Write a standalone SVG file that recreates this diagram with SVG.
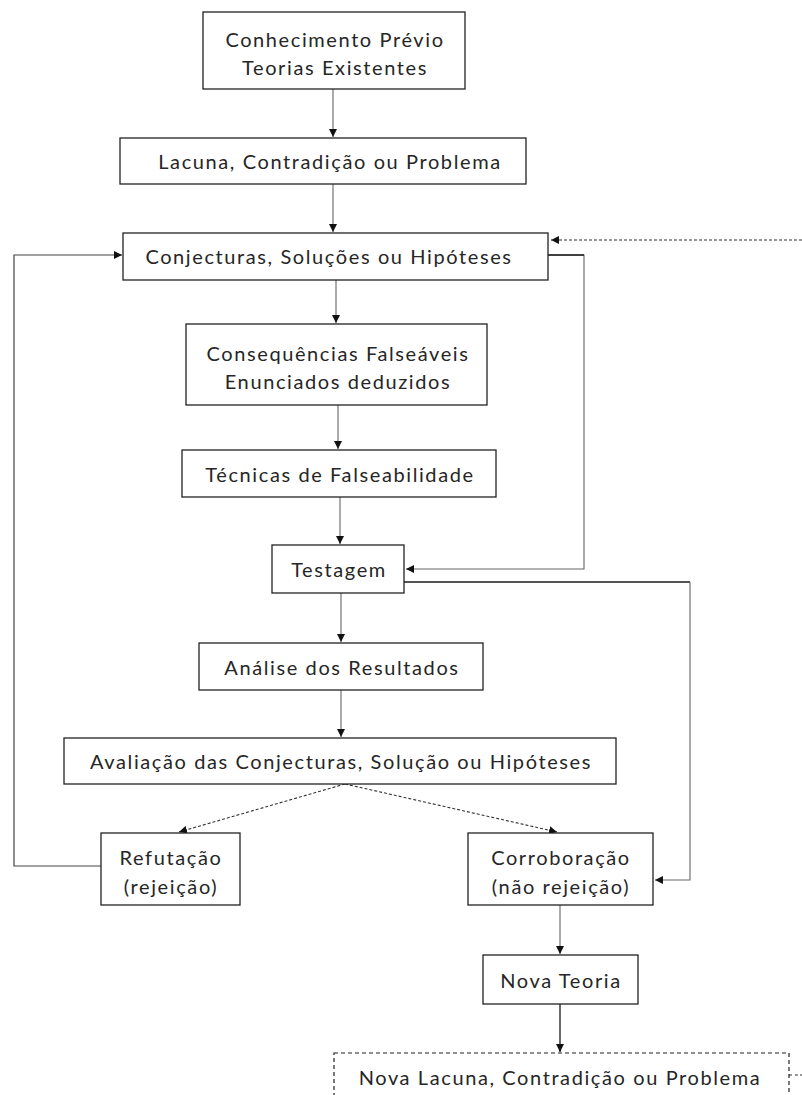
<svg xmlns="http://www.w3.org/2000/svg" width="802" height="1095" viewBox="0 0 802 1095">
  <style>
    .box { fill: #ffffff; stroke: #222222; stroke-width: 1.3; }
    .dbox { fill: #ffffff; stroke: #222222; stroke-width: 1.2; stroke-dasharray: 4 3; }
    .lbl { font-family: Lato, "Liberation Sans", sans-serif; font-size: 20px; fill: #262626; text-anchor: middle; dominant-baseline: central; letter-spacing: 1.6px; }
    .ln { fill: none; stroke: #666666; stroke-width: 1.1; }
    .md { fill: none; stroke: #444444; stroke-width: 1.2; }
    .dk { fill: none; stroke: #1a1a1a; stroke-width: 1.3; }
    .ds { fill: none; stroke: #333333; stroke-width: 1.1; stroke-dasharray: 3 2; }
  </style>
  <defs>
    <marker id="ah" viewBox="0 0 10 10" refX="10" refY="5" markerWidth="8" markerHeight="8" markerUnits="userSpaceOnUse" orient="auto">
      <path d="M0,0 L10,5 L0,10 z" fill="#111111"/>
    </marker>
  </defs>

  <rect width="802" height="1095" fill="#ffffff"/>

  <g id="connectors">
    <path class="ln" d="M333,89 V137" marker-end="url(#ah)"/>
    <path class="ln" d="M333,184 V232" marker-end="url(#ah)"/>
    <path class="ds" d="M802,240 H551" marker-end="url(#ah)"/>
    <path class="md" d="M101,866 H14 V255 H122" marker-end="url(#ah)"/>
    <path class="ln" d="M548,255 H584 V569 H406" marker-end="url(#ah)"/>
    <path class="dk" d="M548,255 H584"/>
    <path class="ln" d="M336,280 V323" marker-end="url(#ah)"/>
    <path class="ln" d="M338,405 V449" marker-end="url(#ah)"/>
    <path class="ln" d="M340,497 V544" marker-end="url(#ah)"/>
    <path class="dk" d="M404,582 H690"/>
    <path class="ln" d="M690,582 V880 H655" marker-end="url(#ah)"/>
    <path class="ln" d="M341,593 V642" marker-end="url(#ah)"/>
    <path class="ln" d="M341,690 V737" marker-end="url(#ah)"/>
    <path class="ds" d="M345,784 L179,832" marker-end="url(#ah)"/>
    <path class="ds" d="M345,784 L557,832" marker-end="url(#ah)"/>
    <path class="ln" d="M560,905 V954" marker-end="url(#ah)"/>
    <path class="dk" d="M560,1004 V1052" marker-end="url(#ah)"/>
    <path class="ds" d="M789,1075 H793 M795,1075 H802"/>
  </g>

  <g id="n-conhecimento">
    <rect class="box" x="203" y="12" width="262" height="77"/>
    <text class="lbl" x="335" y="39">Conhecimento Prévio</text>
    <text class="lbl" x="335" y="67">Teorias Existentes</text>
  </g>
  <g id="n-lacuna">
    <rect class="box" x="120" y="138" width="406" height="46"/>
    <text class="lbl" x="330" y="161">Lacuna, Contradição ou Problema</text>
  </g>
  <g id="n-conjecturas">
    <rect class="box" x="123" y="233" width="425" height="47"/>
    <text class="lbl" x="329" y="256">Conjecturas, Soluções ou Hipóteses</text>
  </g>
  <g id="n-consequencias">
    <rect class="box" x="186" y="324" width="301" height="81"/>
    <text class="lbl" x="338" y="353">Consequências Falseáveis</text>
    <text class="lbl" x="338" y="381">Enunciados deduzidos</text>
  </g>
  <g id="n-tecnicas">
    <rect class="box" x="182" y="450" width="314" height="47"/>
    <text class="lbl" x="340" y="474">Técnicas de Falseabilidade</text>
  </g>
  <g id="n-testagem">
    <rect class="box" x="272" y="545" width="132" height="48"/>
    <text class="lbl" x="339" y="569">Testagem</text>
  </g>
  <g id="n-analise">
    <rect class="box" x="199" y="643" width="284" height="47"/>
    <text class="lbl" x="342" y="667">Análise dos Resultados</text>
  </g>
  <g id="n-avaliacao">
    <rect class="box" x="64" y="738" width="552" height="46"/>
    <text class="lbl" x="341" y="761">Avaliação das Conjecturas, Solução ou Hipóteses</text>
  </g>
  <g id="n-refutacao">
    <rect class="box" x="101" y="833" width="139" height="72"/>
    <text class="lbl" x="171" y="857">Refutação</text>
    <text class="lbl" x="171" y="886">(rejeição)</text>
  </g>
  <g id="n-corroboracao">
    <rect class="box" x="468" y="833" width="185" height="72"/>
    <text class="lbl" x="561" y="857">Corroboração</text>
    <text class="lbl" x="561" y="886">(não rejeição)</text>
  </g>
  <g id="n-nova-teoria">
    <rect class="box" x="483" y="955" width="155" height="49"/>
    <text class="lbl" x="561" y="980">Nova Teoria</text>
  </g>
  <g id="n-nova-lacuna">
    <rect class="dbox" x="334" y="1053" width="455" height="50"/>
    <text class="lbl" x="560" y="1077">Nova Lacuna, Contradição ou Problema</text>
  </g>
</svg>
